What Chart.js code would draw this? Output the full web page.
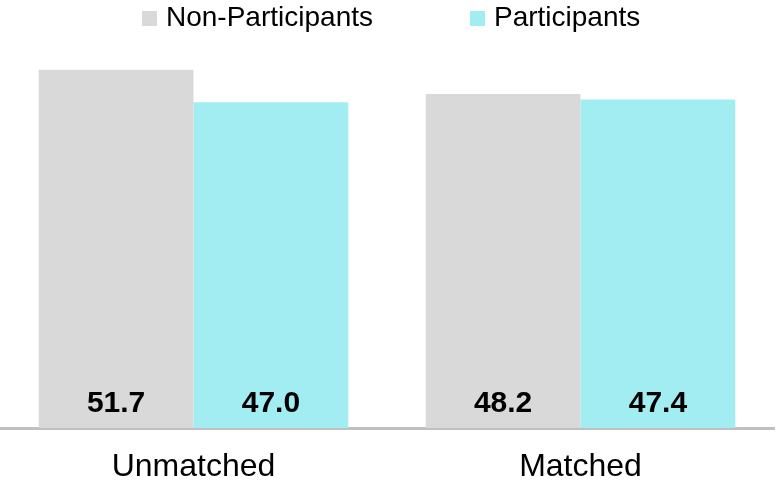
<!DOCTYPE html>
<html>
<head>
<meta charset="utf-8">
<script src="https://cdn.jsdelivr.net/npm/chart.js@4.4.1/dist/chart.umd.min.js"></script>
<style>
  html, body { margin: 0; padding: 0; background: #fff; }
  canvas { display: block; }
</style>
</head>
<body>
<canvas id="barChart" width="776" height="484"></canvas>
<script>
const categories = ["Unmatched", "Matched"];
const seriesNames = ["Non-Participants", "Participants"];
const nonParticipants = [51.7, 48.2];
const participants = [47.0, 47.4];
const seriesColors = ['#d9d9d9', '#a1edf1'];

const FONT = '"Liberation Sans", Arial, sans-serif';

// values printed near the bottom of each bar
const valueLabels = {
    id: 'valueLabels',
    afterDatasetsDraw(chart) {
        const ctx = chart.ctx;
        ctx.save();
        ctx.font = 'bold 30px ' + FONT;
        ctx.fillStyle = '#000';
        ctx.textAlign = 'center';
        ctx.textBaseline = 'alphabetic';
        chart.data.datasets.forEach((ds, i) => {
            chart.getDatasetMeta(i).data.forEach((bar, j) => {
                ctx.fillText(ds.data[j].toFixed(1), bar.x, bar.base - 16);
            });
        });
        ctx.restore();
    }
};

// legend with wide gap between the two entries
const wideLegend = {
    id: 'wideLegend',
    afterDraw(chart) {
        const ctx = chart.ctx;
        ctx.save();
        ctx.font = '28px ' + FONT;
        ctx.textBaseline = 'middle';
        ctx.textAlign = 'left';
        let x = 142;
        chart.data.datasets.forEach((ds, i) => {
            ctx.fillStyle = ds.backgroundColor;
            ctx.fillRect(x, 11, 15, 15);
            x += 15 + 9;
            ctx.fillStyle = '#000';
            ctx.fillText(ds.label, x, 18);
            x += ctx.measureText(ds.label).width + 97;
        });
        ctx.restore();
    }
};

let barData = {
    labels: categories,
    datasets: [{
        label: seriesNames[0],
        backgroundColor: seriesColors[0],
        data: nonParticipants
    }, {
        label: seriesNames[1],
        backgroundColor: seriesColors[1],
        data: participants
    }]
};

let barOptions = {
    responsive: false,
    animation: false,
    layout: { padding: { left: 0, right: 2, top: 40, bottom: 0 } },
    datasets: {
        bar: { barPercentage: 1.0, categoryPercentage: 0.8, borderWidth: 0 }
    },
    plugins: {
        tooltip: { enabled: false },
        legend: { display: false }
    },
    scales: {
        x: {
            grid: { display: false, drawTicks: false },
            border: { display: true, color: '#c0c0c0', width: 3 },
            ticks: {
                padding: 20,
                color: '#000',
                font: { family: FONT, size: 32 }
            },
            afterFit(scale) { scale.height = 56; }
        },
        y: {
            display: false,
            min: 0,
            max: 56
        }
    }
};

new Chart(document.getElementById("barChart").getContext("2d"), {
    type: 'bar', data: barData, options: barOptions, plugins: [valueLabels, wideLegend]
});
</script>
</body>
</html>
